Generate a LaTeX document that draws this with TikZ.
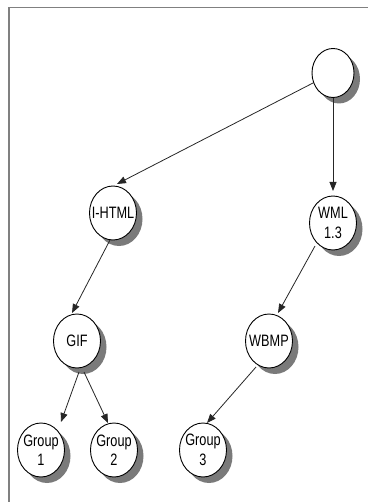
\documentclass[tikz,border=0pt]{standalone}
\usepackage{fontspec}
\setmainfont{Liberation Sans}[FakeStretch=0.77]
\usetikzlibrary{shapes.geometric,shadows,arrows.meta,calc}
\begin{document}
\begin{tikzpicture}[x=1pt,y=-1pt,
  bub/.style={ellipse,draw=black,line width=0.9pt,fill=white,
    minimum width=47pt,minimum height=54pt,inner sep=0pt,
    general shadow={fill=black!52,shadow xshift=6pt,shadow yshift=-6pt}},
  txt/.style={font=\fontsize{16.5}{19.5}\selectfont,align=center,inner sep=0pt},
  arr/.style={-{Triangle[length=9pt,width=7pt]},line width=0.8pt,black!85}]
\useasboundingbox (0,0) rectangle (368,502);
% frame edges
\draw[black!50,line width=1.5pt] (9,502) -- (9,7.75) -- (368,7.75);

% tree nodes
\node[bub,minimum width=42pt,minimum height=49pt] (root) at (333,73) {};
\node[bub,label={[txt]center:I-HTML}] (ihtml) at (113,213) {};
\node[bub,label={[txt]center:{WML\\1.3}}] (wml) at (333,223) {};
\node[bub,label={[txt]center:GIF}] (gif) at (77,341) {};
\node[bub,label={[txt]center:WBMP}] (wbmp) at (269,341) {};
\node[bub,label={[txt]center:{Group\\1}}] (g1) at (41,450) {};
\node[bub,label={[txt]center:{Group\\2}}] (g2) at (114,450) {};
\node[bub,label={[txt]center:{Group\\3}}] (g3) at (203,450) {};

% connectors
\draw[arr] ($(root)+(-20,10)$) -- ($(ihtml)+(4,-29)$);
\draw[arr] ($(root)+(0,25)$) -- ($(wml)+(0,-32)$);
\draw[arr] ($(ihtml)+(-3,27)$) -- ($(gif)+(-5,-28)$);
\draw[arr] ($(wml)+(-18,23)$) -- ($(wbmp)+(9,-28)$);
\draw[arr] ($(gif)+(2,31)$) -- ($(g1)+(20,-28)$);
\draw[arr] ($(gif)+(7,31)$) -- ($(g2)+(-6,-27)$);
\draw[arr] ($(wbmp)+(-13,26)$) -- ($(g3)+(4,-27)$);
\end{tikzpicture}
\end{document}
